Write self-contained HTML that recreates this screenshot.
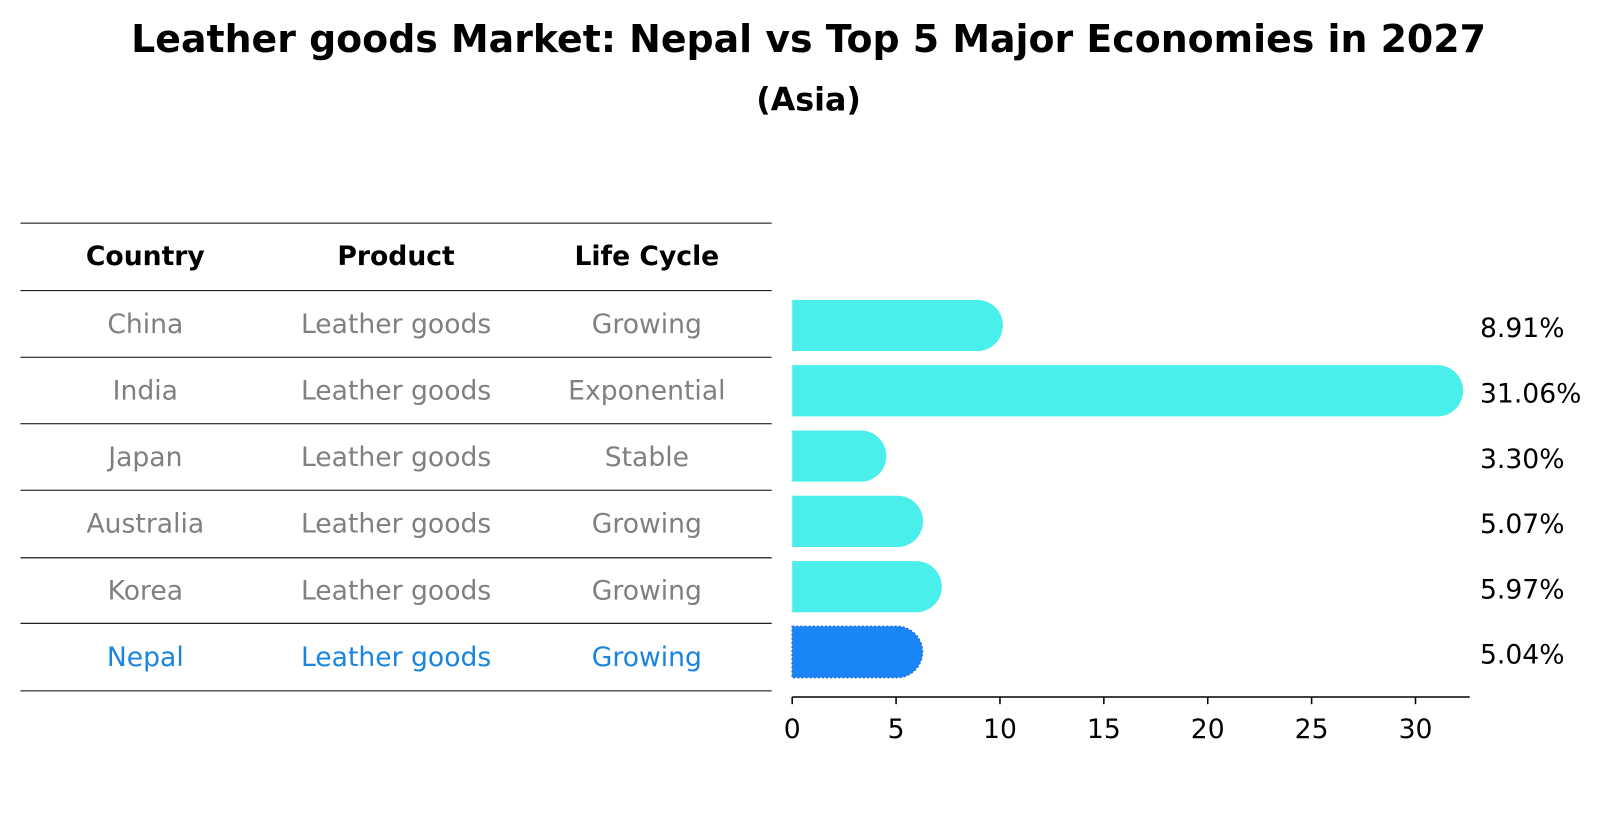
<!DOCTYPE html>
<html><head><meta charset="utf-8"><style>
body{margin:0;background:#fff;width:1604px;height:823px;overflow:hidden;font-family:"Liberation Sans","DejaVu Sans",sans-serif}
</style></head><body>
<svg width="1604" height="823" xmlns="http://www.w3.org/2000/svg" font-family="'DejaVu Sans','Liberation Sans',sans-serif">
<g transform="scale(1.0235)">
<text x="790" y="51" text-anchor="middle" font-size="37" font-weight="bold">Leather goods Market: Nepal vs Top 5 Major Economies in 2027</text>
<text x="790" y="108" text-anchor="middle" font-size="31" font-weight="bold">(Asia)</text>
<g id="table"></g>
<g id="bars"></g>
</g>
</svg>
<script>
const countries=["China","India","Japan","Australia","Korea","Nepal"];
const products=["Leather goods","Leather goods","Leather goods","Leather goods","Leather goods","Leather goods"];
const lifeCycles=["Growing","Exponential","Stable","Growing","Growing","Growing"];
const values=[8.91,31.06,3.30,5.07,5.97,5.04];
const ticks=[0,5,10,15,20,25,30];
const NS="http://www.w3.org/2000/svg";
function mk(t,a,p,txt){const e=document.createElementNS(NS,t);for(const k in a)e.setAttribute(k,a[k]);if(txt!==undefined)e.textContent=txt;p.appendChild(e);return e;}
const tbl=document.getElementById('table');
const colX=[142,387,632];
const hdr=["Country","Product","Life Cycle"];
for(let c=0;c<3;c++){const t=mk('text',{x:colX[c],y:259,'text-anchor':'middle','font-size':26,'font-weight':'bold'},tbl,hdr[c]);

}
const lines=[218,284,349,414,479,545,609,675];
lines.forEach(y=>{const l=mk('line',{x1:20,x2:754,y1:y,y2:y,stroke:'#000','stroke-width':1},tbl);

});
countries.forEach((c,i)=>{const col=c==="Nepal"?"#1a85e0":"#808080";const y=[316,381,446,511,576,641][i]+9.5;
[c,products[i],lifeCycles[i]].forEach((s,k)=>{const t=mk('text',{x:colX[k],y:y,'text-anchor':'middle','font-size':26,fill:col},tbl,s);

});});
const bars=document.getElementById('bars');
const x0=774,ppu=20.3,xs=v=>x0+v*ppu;
const r=25;
values.forEach((v,i)=>{const cy=318+i*63.8;const xe=xs(v);const nep=countries[i]==="Nepal";
const p=mk('path',{d:`M${x0} ${cy-r} H${xe} A${r} ${r} 0 0 1 ${xe} ${cy+r} H${x0} Z`,fill:nep?'#1a85f5':'#4aeeea',stroke:nep?'#1a6fe0':'none','stroke-dasharray':nep?'2 2':'none','stroke-width':1.5},bars);


const t=mk('text',{x:1446,y:cy+11.5,'font-size':26},bars,v.toFixed(2)+'%');

});
const ax=mk('line',{x1:774,x2:1436,y1:681,y2:681,stroke:'#000','stroke-width':1.5},bars);


ticks.forEach(tv=>{const x=xs(tv);const l=mk('line',{x1:x,x2:x,y1:681,y2:688,stroke:'#000','stroke-width':1.5},bars);


const t=mk('text',{x:x,y:721,'text-anchor':'middle','font-size':26},bars,String(tv));

});
</script>
</body></html>
